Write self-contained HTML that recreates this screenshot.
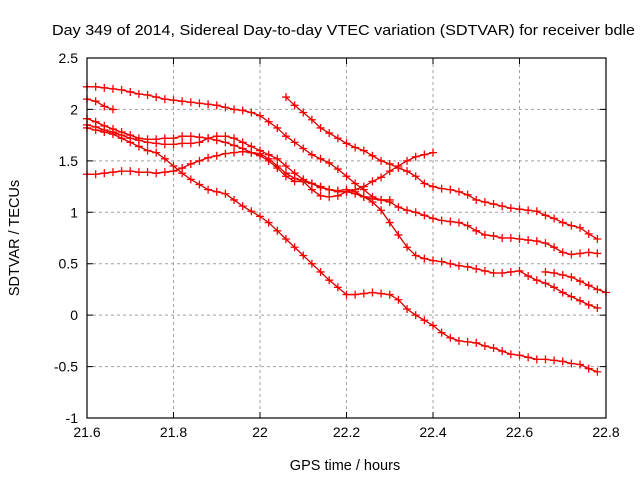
<!DOCTYPE html>
<html><head><meta charset="utf-8"><style>
body{margin:0;background:#fff}
svg{display:block;font-family:"Liberation Sans",sans-serif}
</style></head><body>
<svg id="chart" width="640" height="480">
<text x="52" y="35" font-size="14.5" textLength="583" lengthAdjust="spacingAndGlyphs">Day 349 of 2014, Sidereal Day-to-day VTEC variation (SDTVAR) for receiver bdle</text>
<text x="345" y="470" font-size="14.5" text-anchor="middle">GPS time / hours</text>
<text transform="translate(19,238) rotate(-90)" font-size="14.5" text-anchor="middle">SDTVAR / TECUs</text>
<g id="grid"></g>
<g id="series"></g>
<rect x="87" y="58" width="519" height="360" fill="none" stroke="#000" stroke-width="1.2"/>
</svg>
<script>
const xTicks=[21.6,21.8,22,22.2,22.4,22.6,22.8];
const xTickLabels=["21.6","21.8","22","22.2","22.4","22.6","22.8"];
const yTicks=[-1,-0.5,0,0.5,1,1.5,2,2.5];
const yTickLabels=["-1","-0.5","0","0.5","1","1.5","2","2.5"];
const seriesStarts=[21.6,21.6,22.06,21.6,21.6,21.6,21.6,22.66];
const s1=[2.22,2.22,2.21,2.2,2.19,2.17,2.15,2.14,2.12,2.1,2.09,2.08,2.07,2.06,2.05,2.04,2.02,2.0,1.99,1.97,1.94,1.88,1.82,1.74,1.68,1.62,1.56,1.52,1.48,1.42,1.35,1.28,1.22,1.15,1.12,1.1,1.05,1.02,1.0,0.97,0.94,0.92,0.91,0.9,0.87,0.82,0.78,0.77,0.75,0.75,0.74,0.73,0.72,0.7,0.66,0.61,0.59,0.6,0.61,0.6];
const s2=[2.1,2.08,2.03,2.0];
const s3=[2.12,2.04,1.97,1.9,1.82,1.77,1.72,1.67,1.63,1.6,1.55,1.5,1.47,1.43,1.4,1.35,1.28,1.25,1.23,1.22,1.2,1.17,1.12,1.1,1.08,1.06,1.04,1.03,1.02,1.01,0.97,0.94,0.9,0.87,0.85,0.79,0.74];
const s4=[1.37,1.37,1.38,1.39,1.4,1.4,1.39,1.39,1.38,1.39,1.4,1.43,1.47,1.5,1.53,1.55,1.57,1.58,1.59,1.58,1.57,1.52,1.45,1.38,1.33,1.3,1.22,1.16,1.15,1.16,1.2,1.22,1.25,1.3,1.34,1.4,1.45,1.5,1.54,1.56,1.58];
const s5=[1.82,1.8,1.78,1.76,1.72,1.68,1.64,1.6,1.58,1.52,1.45,1.38,1.32,1.27,1.22,1.2,1.18,1.12,1.06,1.01,0.96,0.9,0.82,0.74,0.66,0.58,0.5,0.42,0.34,0.27,0.2,0.2,0.21,0.22,0.21,0.2,0.15,0.06,0.0,-0.05,-0.1,-0.17,-0.22,-0.25,-0.26,-0.27,-0.3,-0.32,-0.35,-0.38,-0.39,-0.41,-0.43,-0.43,-0.44,-0.45,-0.47,-0.48,-0.52,-0.55];
const s6=[1.91,1.88,1.84,1.81,1.78,1.75,1.72,1.71,1.71,1.72,1.72,1.74,1.74,1.73,1.72,1.7,1.68,1.65,1.62,1.58,1.55,1.5,1.43,1.35,1.3,1.3,1.28,1.25,1.22,1.2,1.2,1.18,1.15,1.1,1.02,0.9,0.78,0.66,0.58,0.55,0.53,0.52,0.5,0.48,0.47,0.45,0.43,0.41,0.41,0.42,0.43,0.38,0.34,0.31,0.27,0.22,0.18,0.14,0.1,0.07];
const s7=[1.85,1.83,1.8,1.78,1.75,1.72,1.7,1.68,1.67,1.66,1.66,1.67,1.67,1.68,1.72,1.74,1.74,1.72,1.68,1.64,1.6,1.56,1.52,1.45,1.38,1.32,1.28,1.24,1.22,1.21,1.22,1.2,1.15,1.13,1.12,1.12];
const s8=[0.42,0.41,0.39,0.37,0.33,0.29,0.25,0.22];
const allSeries=[s1,s2,s3,s4,s5,s6,s7,s8];
const STEP=0.02;
const X0=87,X1=606,Y0=418,Y1=58;
const xs=v=>X0+(v-21.6)/(22.8-21.6)*(X1-X0);
const ys=v=>Y0-(v+1)/(3.5)*(Y0-Y1);
const NS="http://www.w3.org/2000/svg";
const grid=document.getElementById('grid');
const mk=(t,a)=>{const e=document.createElementNS(NS,t);for(const k in a)e.setAttribute(k,a[k]);return e;};
xTicks.forEach((t,i)=>{
  const x=xs(t);
  if(i>0&&i<xTicks.length-1){const l=mk('line',{x1:x,x2:x,y1:Y1,y2:Y0,stroke:'#a0a0a0','stroke-dasharray':'3,3'});
  
  grid.appendChild(l);}
  const tk=mk('path',{d:`M${x},${Y0}v-6M${x},${Y1}v6`,stroke:'#000'});
  
  grid.appendChild(tk);
  const tx=mk('text',{x:x,y:Y0+19,'font-size':14,'text-anchor':'middle'});tx.textContent=xTickLabels[i];
  
  grid.appendChild(tx);
});
yTicks.forEach((t,i)=>{
  const y=ys(t);
  if(i>0&&i<yTicks.length-1){const l=mk('line',{x1:X0,x2:X1,y1:y,y2:y,stroke:'#a0a0a0','stroke-dasharray':'3,3'});
  
  grid.appendChild(l);}
  const tk=mk('path',{d:`M${X0},${y}h6M${X1},${y}h-6`,stroke:'#000'});
  
  grid.appendChild(tk);
  const tx=mk('text',{x:X0-9,y:y+5,'font-size':14,'text-anchor':'end'});tx.textContent=yTickLabels[i];
  
  grid.appendChild(tx);
});
const sg=document.getElementById('series');
allSeries.forEach((s,si)=>{
  const g=mk('g',{});
  
  
  const pts=s.map((v,i)=>[xs(seriesStarts[si]+i*STEP),ys(v)]);
  const line=mk('polyline',{points:pts.map(p=>p.join(',')).join(' '),fill:'none',stroke:'#d00000','stroke-width':1.3});
  
  
  g.appendChild(line);
  let d='';
  pts.forEach(p=>{d+=`M${p[0]-4},${p[1]}h8M${p[0]},${p[1]-4}v8`;});
  const m=mk('path',{d:d,stroke:'#ff0000','stroke-width':1.3});
  
  
  g.appendChild(m);
  sg.appendChild(g);
});
</script>
</body></html>
